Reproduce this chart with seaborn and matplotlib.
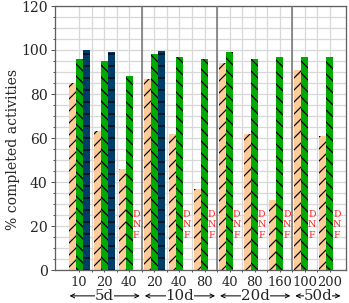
import numpy as np
import pandas as pd
import matplotlib
matplotlib.use("Agg")
import matplotlib.pyplot as plt
from matplotlib.ticker import MultipleLocator
import seaborn as sns

# data
horizons = ['5d', '5d', '5d', '10d', '10d', '10d', '20d', '20d', '20d', '50d', '50d']
sizes = ['10', '20', '40', '20', '40', '80', '40', '80', '160', '100', '200']
orange_vals = [85, 63, 46, 87, 62, 37, 94, 62, 32, 91, 61]
green_vals = [96, 95, 88, 98, 97, 96, 99, 96, 97, 97, 97]
blue_vals = [100, 99, np.nan, 99.5, np.nan, np.nan, np.nan, np.nan, np.nan, np.nan, np.nan]
series = ['A', 'B', 'C']
colors = ['#FFCC99', '#00AA00', '#003D66']
hatches = ['//', '\\\\', '-']

keys = [h + '-' + s for h, s in zip(horizons, sizes)]
df = pd.DataFrame({
    'key': keys * 3,
    'series': np.repeat(series, len(keys)),
    'value': orange_vals + green_vals + blue_vals,
})

sns.set_theme(style='ticks')
plt.rcParams['font.family'] = ['DejaVu Serif']
plt.rcParams['hatch.linewidth'] = 1.2

fig = plt.figure(figsize=(349 / 72, 303 / 72), dpi=72)
ax = fig.add_axes([55 / 349, 1 - 270 / 303, 291 / 349, 264 / 303])

sns.barplot(data=df, x='key', y='value', hue='series', order=keys, hue_order=series,
            palette=colors, width=0.84, errorbar=None, legend=False, ax=ax,
            edgecolor='black', linewidth=0, saturation=1)
for cont, h in zip(ax.containers, hatches):
    for bar in cont:
        bar.set_hatch(h)
        bar.set_linewidth(0)

# DNF markers where the third series has no value
for i, v in enumerate(blue_vals):
    if np.isnan(v):
        ax.text(i + 0.28, 20.5, 'D\nN\nF', color='#FF2525', fontsize=9.5,
                ha='center', va='center', linespacing=1.25)

ax.set_ylim(0, 120)
ax.set_xlim(-0.96, 10.64)
ax.yaxis.set_major_locator(MultipleLocator(20))
ax.yaxis.set_minor_locator(MultipleLocator(5))
ax.set_xticks(range(len(keys)))
ax.set_xticklabels(sizes, fontsize=13)
ax.set_xticks(np.arange(0.5, len(keys) - 1, 1.0), minor=True)
ax.tick_params(axis='y', which='major', labelsize=14, length=4, width=1, color='#555555')
ax.tick_params(axis='y', which='minor', length=2, width=1, color='#555555')
ax.tick_params(axis='x', which='both', length=2, width=1, color='#555555', pad=4)

ax.set_axisbelow(True)
ax.grid(True, which='both', color='#D8D8D8', linewidth=1.3)

# separators between horizons
bounds = [i + 0.5 for i in range(len(keys) - 1) if horizons[i] != horizons[i + 1]]
for b in bounds:
    ax.axvline(b, color='#707070', linewidth=1.5, zorder=3)

for s in ax.spines.values():
    s.set_color('#606060')
    s.set_linewidth(1.3)

ax.set_xlabel('')
ax.set_ylabel('% completed activities', fontsize=14)
ax.yaxis.set_label_coords(-0.12, 0.455)

# horizon labels with arrows under the tick labels
for h in dict.fromkeys(horizons):
    idx = [i for i, x in enumerate(horizons) if x == h]
    left, right = idx[0] - 0.38, idx[-1] + 0.42
    ax.annotate('', xy=(left, -0.098), xytext=(right, -0.098),
                xycoords=('data', 'axes fraction'), textcoords=('data', 'axes fraction'),
                arrowprops=dict(arrowstyle='<->', color='black', lw=1, mutation_scale=10,
                                shrinkA=0, shrinkB=0), annotation_clip=False)
    ax.text((left + right) / 2, -0.098, h, fontsize=15, ha='center', va='center',
            transform=ax.get_xaxis_transform(), clip_on=False,
            bbox=dict(facecolor='white', edgecolor='none', pad=0))

fig.savefig('out.png', dpi=72)
